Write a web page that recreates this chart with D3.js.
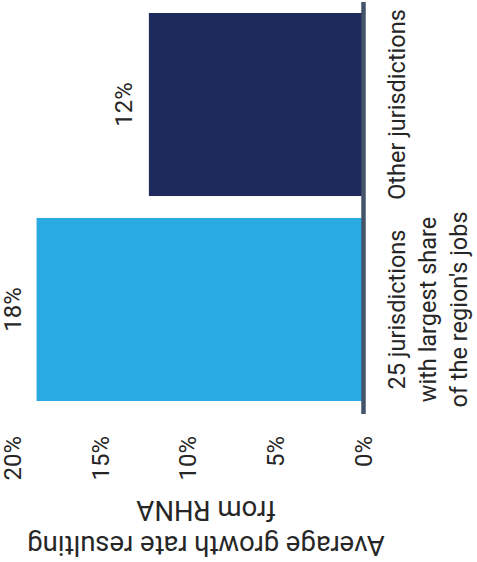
<!DOCTYPE html>
<html>
<head>
<meta charset="utf-8">
<script src="https://cdn.jsdelivr.net/npm/d3@7"></script>
<style>
  html, body { margin: 0; padding: 0; background: #fff; }
  svg { display: block; }
  text { font-family: Roboto, "Open Sans", sans-serif; fill: #262626; }
</style>
</head>
<body>
<svg id="chart" width="477" height="562"></svg>
<script>
// ---- data ----
const categories = ["Other jurisdictions", "25 jurisdictions with largest share of the region's jobs"];
const categoryLines = [["Other jurisdictions"], ["25 jurisdictions", "with largest share", "of the region's jobs"]];
const values = [0.122, 0.186];
const valueLabels = ["12%", "18%"];
const barColors = ["#1F2A5C", "#29ABE2"];
const tickValues = [0, 0.05, 0.10, 0.15, 0.20];
const tickLabels = ["0%", "5%", "10%", "15%", "20%"];
const titleLines = ["from RHNA", "Average growth rate resulting"];

// ---- layout ----
const svg = d3.select("#chart");
const fsTick = 24, fsCat = 23.5, fsTitle = 27.5;

// value scale runs horizontally, 0% at the right-side baseline
const x = d3.scaleLinear().domain([0, 0.2]).range([363, 12]);
// category band runs vertically
const y = d3.scaleBand().domain(categories).range([1, 413]).paddingInner(0.107).paddingOuter(0.0585);

// bars
svg.append("g").selectAll("rect")
  .data(categories)
  .join("rect")
  .attr("x", (d, i) => x(values[i]))
  .attr("y", d => y(d))
  .attr("width", (d, i) => x(0) - x(values[i]))
  .attr("height", y.bandwidth())
  .attr("fill", (d, i) => barColors[i]);

// value labels
svg.append("g").selectAll("text")
  .data(categories)
  .join("text")
  .attr("transform", (d, i) => `translate(${Math.max(x(values[i]) - 25, 13)},${y(d) + y.bandwidth() / 2}) rotate(-90)`)
  .attr("text-anchor", "middle")
  .attr("dy", "0.35em")
  .style("font-size", fsTick + "px")
  .text((d, i) => valueLabels[i]);

// value axis (tick labels only)
const xAxis = d3.axisBottom(x).tickValues(tickValues).tickSize(0)
  .tickFormat((d, i) => tickLabels[i]);
const gx = svg.append("g").attr("transform", "translate(0,436)").call(xAxis);
gx.select(".domain").remove();
gx.selectAll("text")
  .attr("x", 0).attr("y", 0).attr("dy", "0.35em")
  .attr("transform", "rotate(-90)")
  .attr("text-anchor", "end")
  .style("font-size", fsTick + "px")
  .style("font-family", "Roboto, sans-serif")
  .attr("fill", "#262626");

// category axis line
svg.append("line")
  .attr("x1", x(0) + 0.5).attr("x2", x(0) + 0.5)
  .attr("y1", y.range()[0] + 1).attr("y2", y.range()[1] + 1)
  .attr("stroke", "#44546A").attr("stroke-width", 4.5);

// category labels
const lineGap = 31;
categories.forEach((c, i) => {
  const lines = categoryLines[i];
  lines.forEach((ln, j) => {
    svg.append("text")
      .attr("transform", `translate(${397 + j * lineGap},${y(c) + y.bandwidth() / 2}) rotate(-90)`)
      .attr("text-anchor", "middle")
      .attr("dy", "0.35em")
      .style("font-size", fsCat + "px")
      .text(ln);
  });
});

// axis title (upside down)
const titleX = 206;
const titleY = [511, 546];
titleLines.forEach((t, i) => {
  svg.append("text")
    .attr("transform", `translate(${titleX},${titleY[i]}) rotate(180)`)
    .attr("text-anchor", "middle")
    .attr("dy", "0.35em")
    .style("font-size", fsTitle + "px")
    .text(t);
});
</script>
</body>
</html>
